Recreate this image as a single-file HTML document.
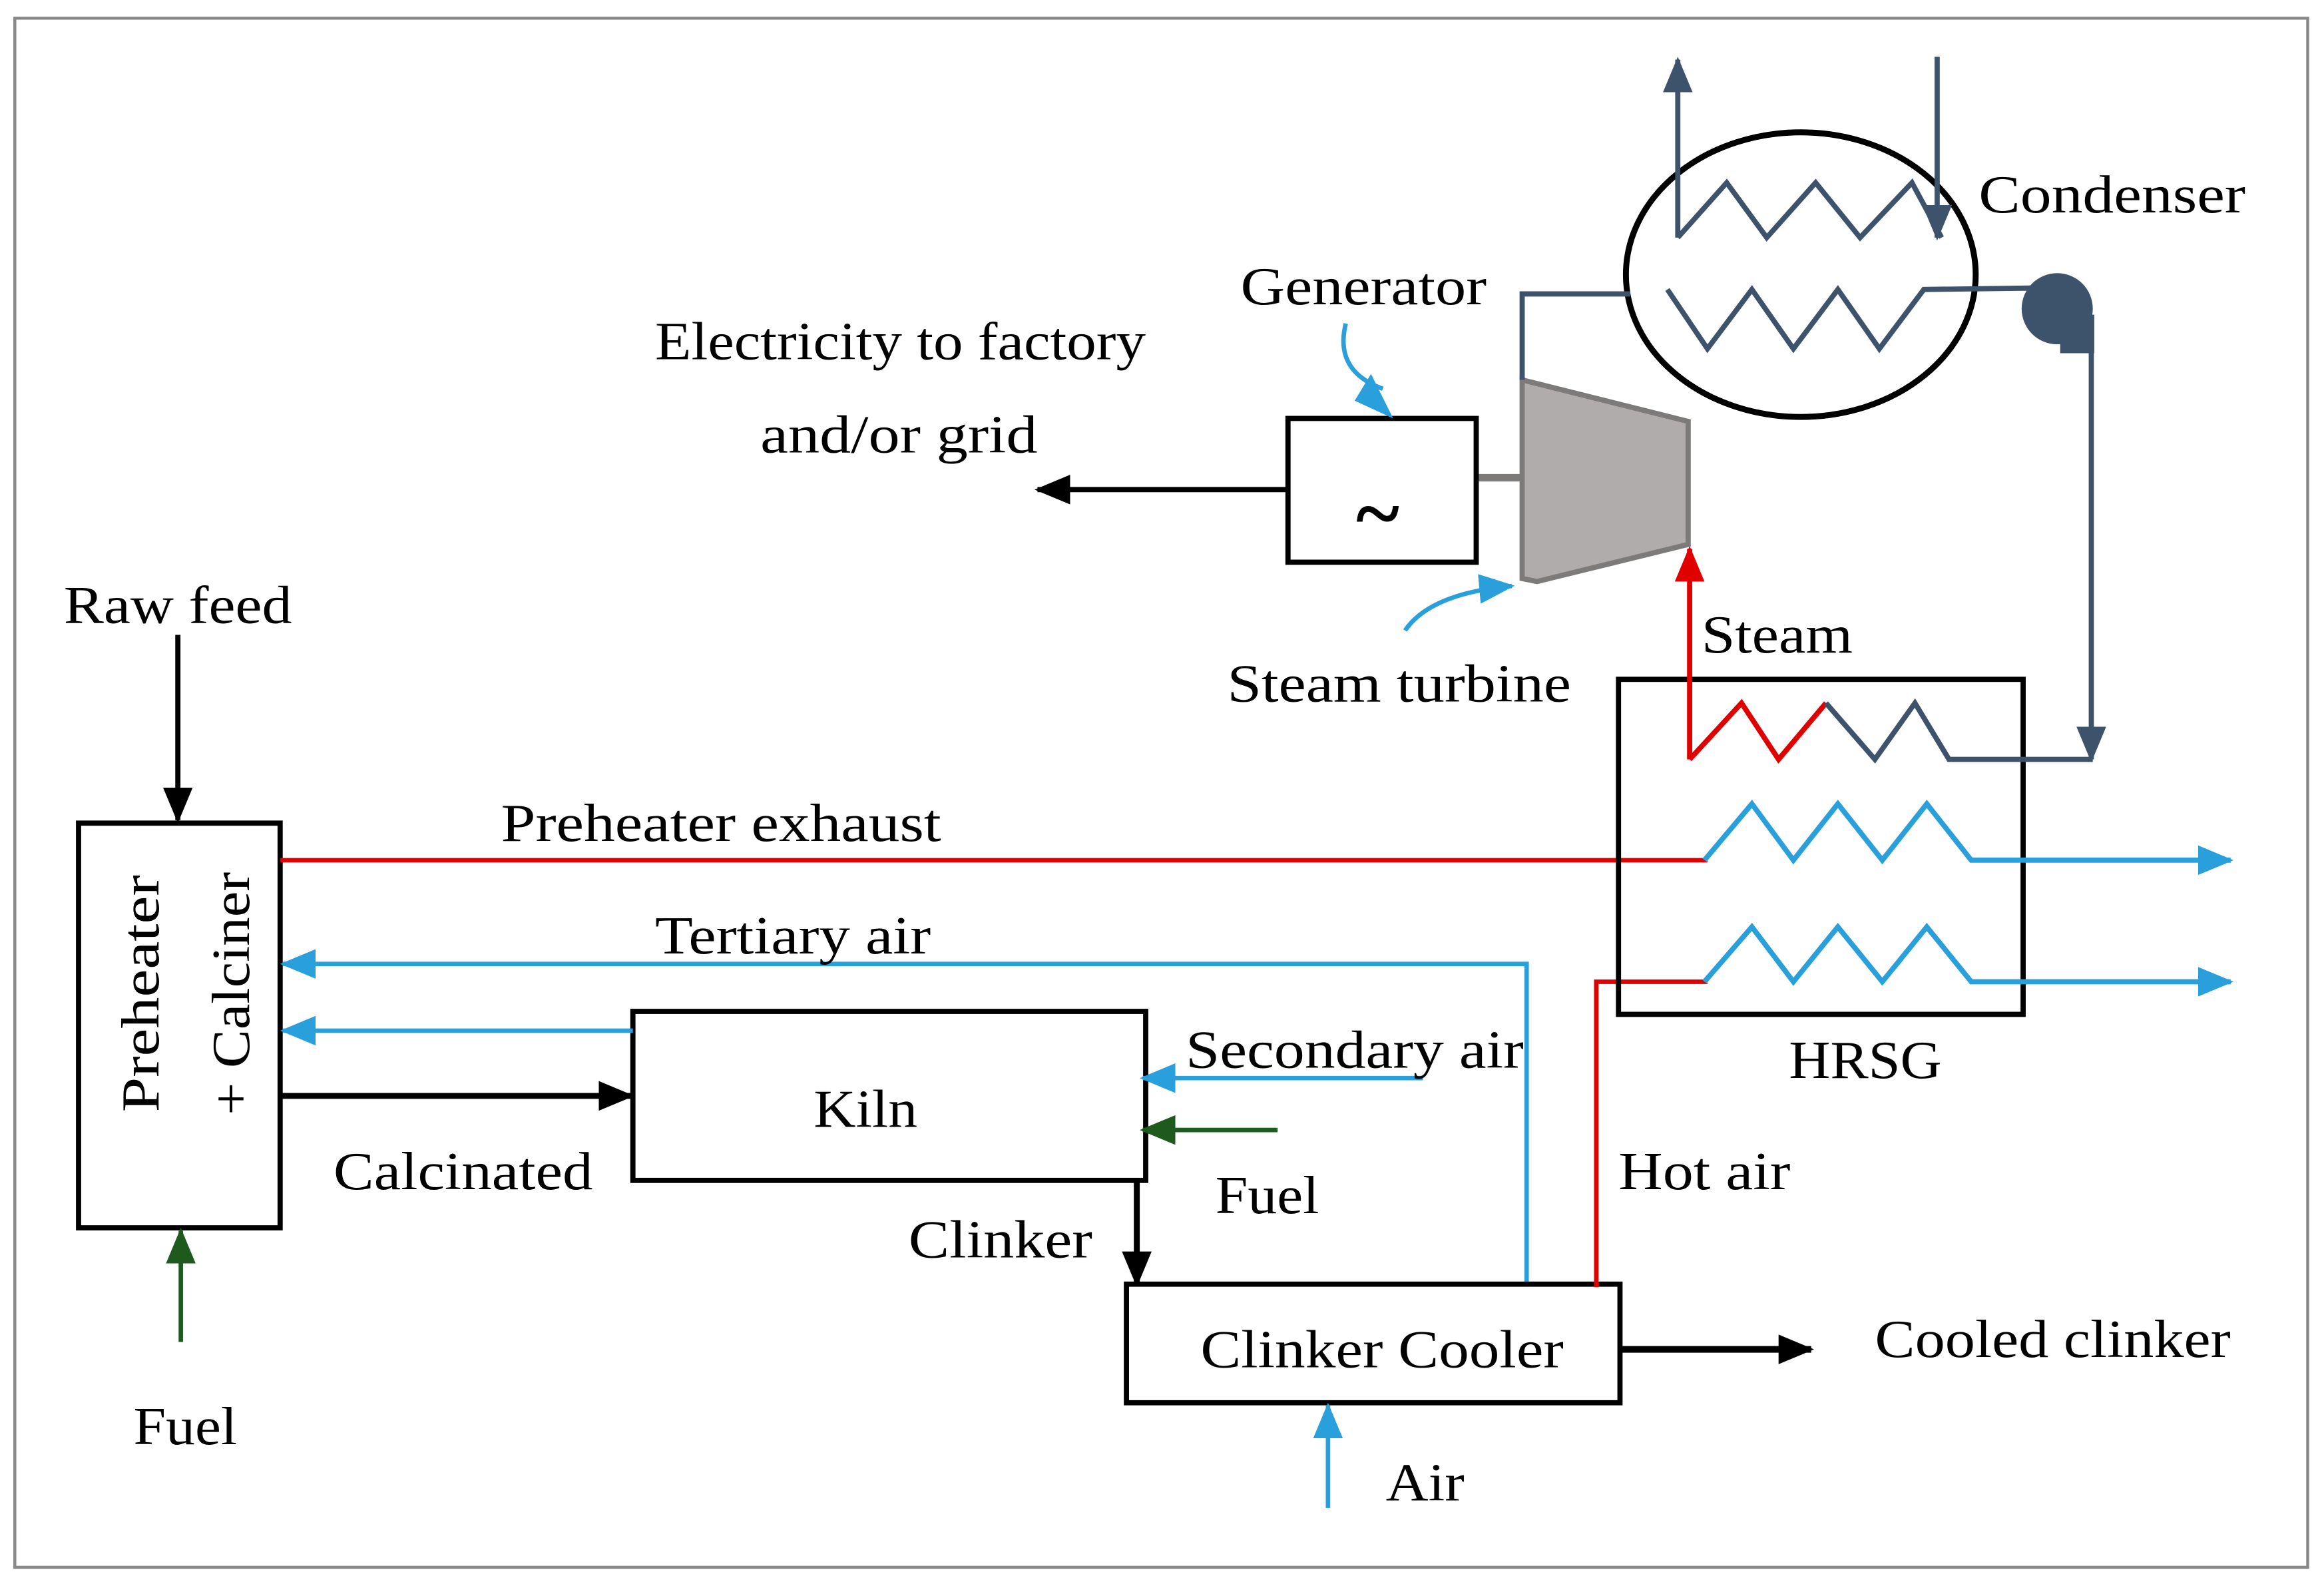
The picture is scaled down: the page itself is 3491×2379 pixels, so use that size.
<!DOCTYPE html>
<html><head><meta charset="utf-8"><style>
html,body{margin:0;padding:0;background:#fff}
svg{display:block}
text{font-family:"Liberation Serif",serif;font-size:36px;fill:#000}
</style></head><body>
<svg width="3491" height="2379" viewBox="0 0 1568 1068" xmlns="http://www.w3.org/2000/svg">
<defs>
<marker id="abk" markerWidth="24" markerHeight="20" refX="22" refY="10" orient="auto" markerUnits="userSpaceOnUse"><path d="M0,0 L24,10 L0,20z" fill="#000"/></marker>
<marker id="abl" markerWidth="24" markerHeight="20" refX="22" refY="10" orient="auto" markerUnits="userSpaceOnUse"><path d="M0,0 L24,10 L0,20z" fill="#29a0dc"/></marker>
<marker id="agr" markerWidth="24" markerHeight="20" refX="22" refY="10" orient="auto" markerUnits="userSpaceOnUse"><path d="M0,0 L24,10 L0,20z" fill="#1e5a1e"/></marker>
<marker id="ard" markerWidth="24" markerHeight="20" refX="22" refY="10" orient="auto" markerUnits="userSpaceOnUse"><path d="M0,0 L24,10 L0,20z" fill="#e00000"/></marker>
<marker id="adk" markerWidth="24" markerHeight="20" refX="22" refY="10" orient="auto" markerUnits="userSpaceOnUse"><path d="M0,0 L24,10 L0,20z" fill="#3d536b"/></marker>
</defs>
<rect x="10" y="12" width="1547" height="1045" fill="none" stroke="#888" stroke-width="2"/>

<rect x="53" y="555" width="136" height="273" fill="#fff" stroke="#000" stroke-width="3.5"/>
<text transform="translate(107,750) rotate(-90)" textLength="160" lengthAdjust="spacingAndGlyphs">Preheater</text>
<text transform="translate(168,752) rotate(-90)" textLength="164" lengthAdjust="spacingAndGlyphs">+ Calciner</text>
<text x="43" y="420" textLength="154" lengthAdjust="spacingAndGlyphs">Raw feed</text>
<line x1="120" y1="428" x2="120" y2="553" stroke="#000" stroke-width="3.5" marker-end="url(#abk)"/>
<line x1="122" y1="905" x2="122" y2="830" stroke="#1e5a1e" stroke-width="3" marker-end="url(#agr)"/>
<text x="90" y="974" textLength="70" lengthAdjust="spacingAndGlyphs">Fuel</text>

<rect x="427" y="682" width="346" height="114" fill="#fff" stroke="#000" stroke-width="3.5"/>
<text x="549" y="760" textLength="70" lengthAdjust="spacingAndGlyphs">Kiln</text>
<line x1="189" y1="739" x2="426" y2="739" stroke="#000" stroke-width="4" marker-end="url(#abk)"/>
<text x="225" y="802" textLength="175" lengthAdjust="spacingAndGlyphs">Calcinated</text>
<line x1="427" y1="695" x2="191" y2="695" stroke="#29a0dc" stroke-width="3" marker-end="url(#abl)"/>
<polyline points="1030,865 1030,650 191,650" fill="none" stroke="#29a0dc" stroke-width="3" marker-end="url(#abl)"/>
<text x="442" y="643" textLength="186" lengthAdjust="spacingAndGlyphs">Tertiary air</text>
<line x1="189" y1="580" x2="1152" y2="580" stroke="#e00000" stroke-width="3"/>
<text x="338" y="567" textLength="297" lengthAdjust="spacingAndGlyphs">Preheater exhaust</text>
<line x1="960" y1="727" x2="771" y2="727" stroke="#29a0dc" stroke-width="3" marker-end="url(#abl)"/>
<text x="800" y="720" textLength="228" lengthAdjust="spacingAndGlyphs">Secondary air</text>
<line x1="862" y1="762" x2="771" y2="762" stroke="#1e5a1e" stroke-width="3" marker-end="url(#agr)"/>
<text x="820" y="818" textLength="70" lengthAdjust="spacingAndGlyphs">Fuel</text>
<polyline points="767,796 767,866" fill="none" stroke="#000" stroke-width="4" marker-end="url(#abk)"/>
<text x="613" y="848" textLength="124" lengthAdjust="spacingAndGlyphs">Clinker</text>

<rect x="760" y="866" width="333" height="80" fill="#fff" stroke="#000" stroke-width="3.5"/>
<text x="810" y="922" textLength="245" lengthAdjust="spacingAndGlyphs">Clinker Cooler</text>
<line x1="1093" y1="910" x2="1222" y2="910" stroke="#000" stroke-width="4.5" marker-end="url(#abk)"/>
<text x="1265" y="915" textLength="240" lengthAdjust="spacingAndGlyphs">Cooled clinker</text>
<line x1="896" y1="1017" x2="896" y2="948" stroke="#29a0dc" stroke-width="3" marker-end="url(#abl)"/>
<text x="935" y="1012" textLength="53" lengthAdjust="spacingAndGlyphs">Air</text>
<polyline points="1077,868 1077,662 1152,662" fill="none" stroke="#e00000" stroke-width="3"/>
<text x="1092" y="802" textLength="116" lengthAdjust="spacingAndGlyphs">Hot air</text>

<rect x="1092" y="458" width="273" height="226" fill="none" stroke="#000" stroke-width="3.5"/>
<text x="1207" y="727" textLength="103" lengthAdjust="spacingAndGlyphs">HRSG</text>
<polyline points="1140,512 1175,474 1200,512 1232,474" fill="none" stroke="#e00000" stroke-width="3.5"/>
<polyline points="1232,474 1265,512 1292,474 1315,512 1412,512" fill="none" stroke="#3d536b" stroke-width="3.5"/>
<polyline points="1150,580 1182,542 1210,580 1240,542 1270,580 1300,542 1330,580 1505,580" fill="none" stroke="#29a0dc" stroke-width="3.5" marker-end="url(#abl)"/>
<polyline points="1150,662 1182,625 1210,662 1240,625 1270,662 1300,625 1330,662 1505,662" fill="none" stroke="#29a0dc" stroke-width="3.5" marker-end="url(#abl)"/>
<line x1="1140" y1="512" x2="1140" y2="370" stroke="#e00000" stroke-width="3.5" marker-end="url(#ard)"/>
<text x="1148" y="440" textLength="102" lengthAdjust="spacingAndGlyphs">Steam</text>

<polygon points="1027,256 1139,284 1139,367 1037,392 1027,390" fill="#b0acab" stroke="#7d7a7a" stroke-width="3.5"/>
<line x1="997" y1="322" x2="1027" y2="322" stroke="#7d7a7a" stroke-width="5"/>
<rect x="869" y="282" width="127" height="97" fill="#fff" stroke="#000" stroke-width="3.5"/>
<text x="915" y="365" style="font-size:56px;font-weight:bold">~</text>
<line x1="869" y1="330" x2="700" y2="330" stroke="#000" stroke-width="3.5" marker-end="url(#abk)"/>
<text x="442" y="242" textLength="331" lengthAdjust="spacingAndGlyphs">Electricity to factory</text>
<text x="513" y="305" textLength="187" lengthAdjust="spacingAndGlyphs">and/or grid</text>
<text x="837" y="205" textLength="166" lengthAdjust="spacingAndGlyphs">Generator</text>
<path d="M908,218 Q900,250 933,262" fill="none" stroke="#29a0dc" stroke-width="3"/>
<path d="M925,252 L940,282 L914,270z" fill="#29a0dc"/>
<text x="828" y="473" textLength="232" lengthAdjust="spacingAndGlyphs">Steam turbine</text>
<path d="M948,425 Q965,400 1020,395" fill="none" stroke="#29a0dc" stroke-width="3" marker-end="url(#abl)"/>

<ellipse cx="1215" cy="185" rx="118" ry="96" fill="none" stroke="#000" stroke-width="4"/>
<text x="1335" y="143" textLength="180" lengthAdjust="spacingAndGlyphs">Condenser</text>
<polyline points="1132,160 1165,123 1192,160 1225,123 1255,160 1290,123 1310,160" fill="none" stroke="#3d536b" stroke-width="3.5"/>
<line x1="1132" y1="160" x2="1132" y2="40" stroke="#3d536b" stroke-width="3.5" marker-end="url(#adk)"/>
<line x1="1307" y1="38" x2="1307" y2="160" stroke="#3d536b" stroke-width="3.5" marker-end="url(#adk)"/>
<polyline points="1100,198 1027,198 1027,256" fill="none" stroke="#3d536b" stroke-width="3.5"/>
<polyline points="1125,195 1152,235 1182,195 1210,235 1240,195 1268,235 1298,195 1375,194" fill="none" stroke="#3d536b" stroke-width="3.5"/>
<circle cx="1388" cy="208" r="24" fill="#3d536b"/>
<rect x="1390" y="212" width="23" height="26" fill="#3d536b"/>
<line x1="1411" y1="236" x2="1411" y2="512" stroke="#3d536b" stroke-width="3.5" marker-end="url(#adk)"/>
</svg>
</body></html>
